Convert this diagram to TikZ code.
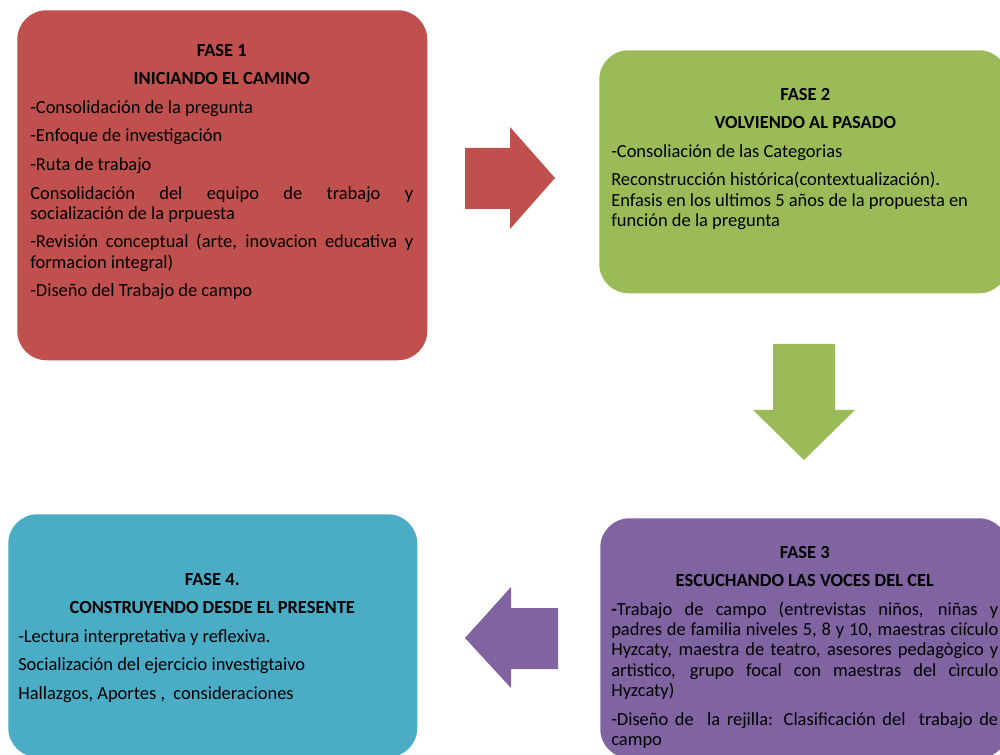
\documentclass[tikz,border=0pt]{standalone}
\usepackage{fontspec}
\setmainfont{Carlito}
\usetikzlibrary{positioning}
\definecolor{faseroja}{HTML}{C0504D}
\definecolor{faseverde}{HTML}{9BBB59}
\definecolor{fasemorada}{HTML}{8064A2}
\definecolor{faseazul}{HTML}{4BACC6}
\newcommand{\fasefont}{\fontsize{13.85}{15.2}\selectfont\parskip=6.2pt\parindent=0pt\hyphenpenalty=10000\relax}
\newcommand{\fasetitulo}[1]{{\centering\bfseries #1\par}}

\begin{document}
\begin{tikzpicture}[
  x=0.75pt, y=-0.75pt,
  fasebox/.style={rounded corners=22pt, inner sep=0pt, anchor=north west},
  fasetxt/.style={text width=#1, inner sep=0pt, align=justify, font=\fasefont}
]
\clip (0,0) rectangle (1000,755);
\node[fasebox, fill=faseroja, minimum width=307.5pt, minimum height=262.5pt] (f1) at (17,10) {};
\node[fasebox, fill=faseverde, minimum width=306.75pt, minimum height=182.25pt] (f2) at (599,50) {};
\node[fasebox, fill=fasemorada, minimum width=306pt, minimum height=180pt] (f3) at (600,518) {};
\node[fasebox, fill=faseazul, minimum width=306.75pt, minimum height=182.25pt] (f4) at (8,514) {};

\node[fasetxt=287.25pt, below right=25.5pt and 9.75pt of f1.north west] (t1) {%
\fasetitulo{FASE 1}
\fasetitulo{INICIANDO EL CAMINO}
-Consolidación de la pregunta\par
-Enfoque de investigación\par
-Ruta de trabajo\par
Consolidación del equipo de trabajo y\linebreak socialización de la prpuesta\par
-Revisión conceptual (arte, inovacion educativa y\linebreak formacion integral)\par
-Diseño del Trabajo de campo};
\node[fasetxt=291pt, align=flush left, below right=28.5pt and 9pt of f2.north west] (t2) {%
\fasetitulo{FASE 2}
\fasetitulo{VOLVIENDO AL PASADO}
-Consoliación de las Categorias\par
Reconstrucción histórica(contextualización).\\
Enfasis en los ultimos 5 años de la propuesta en\\
función de la pregunta};
\node[fasetxt=290.25pt, below right=21pt and 8.25pt of f3.north west] (t3) {%
\fasetitulo{FASE 3}
\fasetitulo{ESCUCHANDO LAS VOCES DEL CEL}
{\bfseries -}Trabajo de campo (entrevistas niños, niñas y\linebreak padres de familia niveles 5, 8 y 10, maestras ciículo\linebreak Hyzcaty, maestra de teatro, asesores pedagògico y\linebreak artìstico, grupo focal con maestras del cìrculo\linebreak Hyzcaty)\par
-Diseño de\ \ la rejilla: Clasificación del\ \ trabajo de\linebreak campo};
\node[fasetxt=291pt, align=flush left, below right=44.25pt and 7.5pt of f4.north west] (t4) {%
\fasetitulo{FASE 4.}
\fasetitulo{CONSTRUYENDO DESDE EL PRESENTE}
-Lectura interpretativa y reflexiva.\par
Socialización del ejercicio investigtaivo\par
Hallazgos, Aportes ,\ \ consideraciones};

% flechas entre fases
\fill[faseroja] (465,148) -- (510,148) -- (510,127) -- (555,178) -- (510,229) -- (510,209) -- (465,209) -- cycle;
\fill[faseverde] (773,344) -- (835,344) -- (835,410) -- (855,410) -- (804,460) -- (753,410) -- (773,410) -- cycle;
\fill[fasemorada] (558,608) -- (511,608) -- (511,587) -- (465,638) -- (511,688) -- (511,669) -- (558,669) -- cycle;
\end{tikzpicture}
\end{document}
